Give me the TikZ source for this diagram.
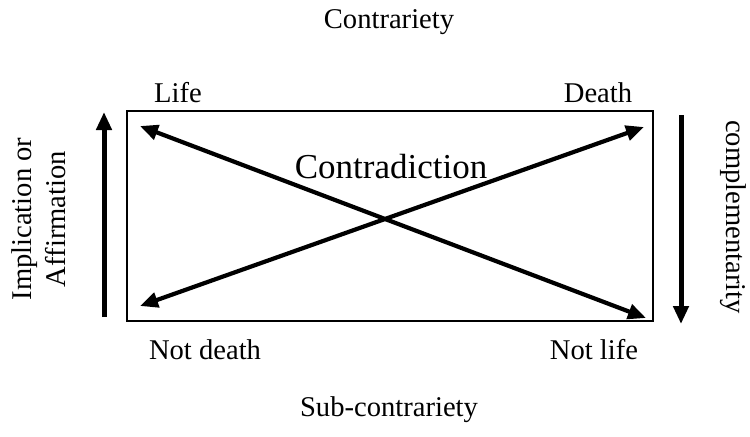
\documentclass[tikz,border=0pt]{standalone}
\usepackage{fontspec}
\setmainfont{Liberation Serif}
\usetikzlibrary{arrows.meta}

\tikzset{
  label text/.style={font=\fontsize{14.3}{17}\selectfont, inner sep=0pt},
  thick arrow/.style={line width=2pt, -{Triangle[length=9pt,width=7.5pt]}},
  cross arrow/.style={line width=2.1pt, {Triangle[length=9pt,width=7.5pt]}-{Triangle[length=9pt,width=7.5pt]}}
}

\begin{document}
\begin{tikzpicture}[x=0.5pt,y=-0.5pt]
    \useasboundingbox (0,0) rectangle (750,436);

    % square frame
    \draw[line width=1pt] (127,111) rectangle (653,321);

    % labels
    \node[label text] (contrariety) at (389,22) {Contrariety};
    \node[label text] (subcontrariety) at (389,410) {Sub-contrariety};
    \node[label text] (life) at (178,93) {Life};
    \node[label text] (death) at (598,93) {Death};
    \node[label text] (notdeath) at (205,350) {Not death};
    \node[label text] (notlife) at (594,350) {Not life};
    \node[font=\fontsize{17.5}{20}\selectfont, inner sep=0pt] (contradiction) at (391,167) {Contradiction};
    \node[label text, rotate=90, align=center] (implication) at (39,219) {Implication or\\Affirmation};
    \node[label text, rotate=-90] (complementarity) at (733,217) {complementarity};

    % arrow ends
    \coordinate (lifeend) at (140,126);
    \coordinate (deathend) at (644,127);
    \coordinate (notdeathend) at (140,306);
    \coordinate (notlifeend) at (646,318);
    \coordinate (leftlow) at (104,317);
    \coordinate (lefthigh) at (104,112);
    \coordinate (righthigh) at (681,115);
    \coordinate (rightlow) at (681,324);

    \draw[cross arrow] (lifeend) -- (notlifeend);
    \draw[cross arrow] (notdeathend) -- (deathend);
    \draw[thick arrow, line width=2.5pt] (leftlow) -- (lefthigh);
    \draw[thick arrow, line width=2.5pt] (righthigh) -- (rightlow);
\end{tikzpicture}
\end{document}
